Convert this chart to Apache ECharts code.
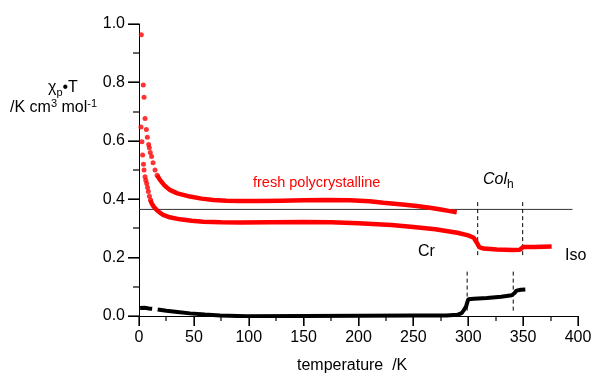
<!DOCTYPE html>
<html>
<head>
<meta charset="utf-8">
<script src="https://cdn.jsdelivr.net/npm/echarts@6/dist/echarts.min.js"></script>
<style>
  html, body { margin: 0; padding: 0; background: #fff; }
  #main { width: 595px; height: 374px; }
</style>
</head>
<body>
<div id="main"></div>
<script>
// fresh polycrystalline (upper red curve)
var freshSparseT = [2.1, 3.9, 4.6, 5.5, 6.7, 7.6, 8.8, 9.4, 10.3, 11.5, 12.8, 14.6, 16.5];
var freshSparseV = [0.963, 0.791, 0.749, 0.676, 0.639, 0.612, 0.587, 0.576, 0.56, 0.546, 0.525, 0.5, 0.482];
var freshT = [16.5, 19.1, 23, 28, 35, 46.5, 57, 67.7, 80, 92, 110, 130, 150, 170, 192, 210, 222.6, 240, 253, 265, 275, 282, 289.5];
var freshV = [0.482, 0.466, 0.448, 0.432, 0.42, 0.409, 0.402, 0.397, 0.395, 0.394, 0.394, 0.395, 0.396, 0.397, 0.396, 0.393, 0.388, 0.382, 0.377, 0.371, 0.365, 0.36, 0.355];

// second run (lower red curve)
var runSparseT = [1.8, 2.7, 3.3, 4.1, 4.6, 5.5, 6.2, 7.0, 7.8, 8.5, 9.5, 10.5];
var runSparseV = [0.647, 0.597, 0.551, 0.52, 0.5, 0.477, 0.465, 0.454, 0.44, 0.426, 0.41, 0.397];
var runT = [10.5, 11.5, 13.5, 16.1, 19, 22, 28, 37.4, 48, 58.6, 75, 92, 120, 150, 175, 200, 230, 250, 270, 290, 300, 305, 308, 310, 314, 326, 340, 347, 350, 360, 376];
var runV = [0.397, 0.386, 0.374, 0.363, 0.354, 0.346, 0.338, 0.331, 0.326, 0.323, 0.321, 0.32, 0.321, 0.322, 0.321, 0.318, 0.312, 0.305, 0.297, 0.285, 0.276, 0.268, 0.25, 0.236, 0.231, 0.228, 0.226, 0.227, 0.236, 0.236, 0.238];

// black curve
var blackT = [1, 5, 9, 12, null, 17, 25, 35, 46.5, 60, 73.8, 90, 98, 150, 200, 250, 280, 290, 294, 296, 298, 299, 300, 305, 317, 330, 339.6, 342, 344, 348, 352];
var blackV = [0.027, 0.028, 0.026, 0.025, null, 0.022, 0.018, 0.014, 0.009, 0.005, 0.002, 0.0, -0.001, 0.0, 0.001, 0.002, 0.002, 0.004, 0.01, 0.02, 0.032, 0.045, 0.057, 0.059, 0.062, 0.066, 0.071, 0.078, 0.087, 0.09, 0.091];

// reference line and phase boundaries
var refLineT = [0, 395];
var refLineV = [0.365, 0.365];
var redDashT = [308.6, 349.6];
var redDashV = [0.39, 0.2];
var blackDashT = [299, 341];
var blackDashV = [0.152, 0.01];

// axis ticks
var xMajorTicks = [0, 50, 100, 150, 200, 250, 300, 350, 400];
var xMinorTicks = [25, 75, 125, 175, 225, 275, 325, 375];
var yMajorTicks = [0, 0.2, 0.4, 0.6, 0.8, 1.0];
var yMinorTicks = [0.1, 0.3, 0.5, 0.7, 0.9];

function pairs(xs, ys) {
  return xs.map(function(x, i) { return x === null ? [null, null] : [x, ys[i]]; });
}

var myChart = echarts.init(document.getElementById('main'));
var font = 'Liberation Sans, Arial, sans-serif';

var series = [
  {
    type: 'line',
    data: pairs(refLineT, refLineV),
    showSymbol: false,
    lineStyle: { color: '#333', width: 1 },
    silent: true
  }
];

redDashT.forEach(function(t) {
  series.push({
    type: 'line',
    data: [[t, redDashV[0]], [t, redDashV[1]]],
    showSymbol: false,
    lineStyle: { color: '#000', width: 1, type: [4, 3] },
    silent: true
  });
});
blackDashT.forEach(function(t) {
  series.push({
    type: 'line',
    data: [[t, blackDashV[0]], [t, blackDashV[1]]],
    showSymbol: false,
    lineStyle: { color: '#000', width: 1, type: [4, 3] },
    silent: true
  });
});

series.push(
  {
    type: 'scatter',
    data: pairs(freshSparseT, freshSparseV),
    symbolSize: 5,
    itemStyle: { color: '#ff0000' }
  },
  {
    type: 'line',
    data: pairs(freshT, freshV),
    showSymbol: false,
    lineStyle: { color: '#ff0000', width: 4.5 }
  },
  {
    type: 'scatter',
    data: pairs(runSparseT, runSparseV),
    symbolSize: 5,
    itemStyle: { color: '#ff0000' }
  },
  {
    type: 'line',
    data: pairs(runT, runV),
    showSymbol: false,
    lineStyle: { color: '#ff0000', width: 4.5 }
  },
  {
    type: 'line',
    data: pairs(blackT, blackV),
    showSymbol: false,
    connectNulls: false,
    lineStyle: { color: '#000', width: 4 }
  }
);

var labels = [
  {
    type: 'text', left: 48, top: 80,
    style: {
      text: 'χ{s|p}•T',
      font: '16px ' + font, fill: '#000',
      rich: { s: { fontSize: 11, fontFamily: font, padding: [9, 0, 0, 0] } }
    }
  },
  {
    type: 'text', left: 10, top: 98,
    style: {
      text: '/K cm{u|3} mol{u|-1}',
      font: '16px ' + font, fill: '#000',
      rich: { u: { fontSize: 11, fontFamily: font, padding: [0, 0, 9, 0] } }
    }
  },
  {
    type: 'text', left: 253, top: 175,
    style: { text: 'fresh polycrystalline', font: '14.5px ' + font, fill: '#ff0000' }
  },
  {
    type: 'text', left: 483, top: 172,
    style: {
      text: '{i|Col}{s|h}',
      font: '16px ' + font, fill: '#000',
      rich: {
        i: { fontStyle: 'italic', fontSize: 16, fontFamily: font },
        s: { fontSize: 12, fontFamily: font, padding: [9, 0, 0, 0] }
      }
    }
  },
  {
    type: 'text', left: 418, top: 244,
    style: { text: 'Cr', font: '16px ' + font, fill: '#000' }
  },
  {
    type: 'text', left: 565, top: 248,
    style: { text: 'Iso', font: '16px ' + font, fill: '#000' }
  },
  {
    type: 'text', left: 297, top: 358,
    style: { text: 'temperature  /K', font: '16px ' + font, fill: '#000' }
  }
];

var option = {
  animation: false,
  grid: { left: 139, right: 17, top: 24, bottom: 58 },
  xAxis: {
    type: 'value',
    min: 0, max: 400, interval: 50,
    axisLine: { show: true, onZero: false, lineStyle: { color: '#000', width: 1 } },
    axisTick: { show: true, length: 10, lineStyle: { color: '#000', width: 1 } },
    splitLine: { show: false },
    axisLabel: { color: '#000', fontSize: 16, fontFamily: font, margin: 14 }
  },
  yAxis: {
    type: 'value',
    min: 0, max: 1, interval: 0.2,
    axisLine: { show: true, onZero: false, lineStyle: { color: '#000', width: 1 } },
    axisTick: { show: true, length: 11, lineStyle: { color: '#000', width: 1 } },
    splitLine: { show: false },
    axisLabel: {
      color: '#000', fontSize: 16, fontFamily: font, margin: 14,
      formatter: function(v) { return v.toFixed(1); }
    }
  },
  graphic: labels,
  series: series
};

myChart.setOption(option);

// tick marks as thin filled bars, placed through the axis scales
function tickRects(values, isX, len) {
  return values.map(function(v) {
    var p = myChart.convertToPixel({ gridIndex: 0 }, isX ? [v, 0] : [0, v]);
    var x = Math.round(p[0]), y = Math.round(p[1]);
    return {
      type: 'rect', silent: true, z: 100,
      shape: isX ? { x: x - 0.6, y: y, width: 1.2, height: len } : { x: x - len, y: y - 0.6, width: len, height: 1.2 },
      style: { fill: '#000' }
    };
  });
}

var ticks = [].concat(
  tickRects(xMajorTicks, true, 10),
  tickRects(xMinorTicks, true, 5),
  tickRects(yMajorTicks, false, 11),
  tickRects(yMinorTicks, false, 6)
);
myChart.setOption({ graphic: { elements: labels.concat(ticks) } });
</script>
</body>
</html>
